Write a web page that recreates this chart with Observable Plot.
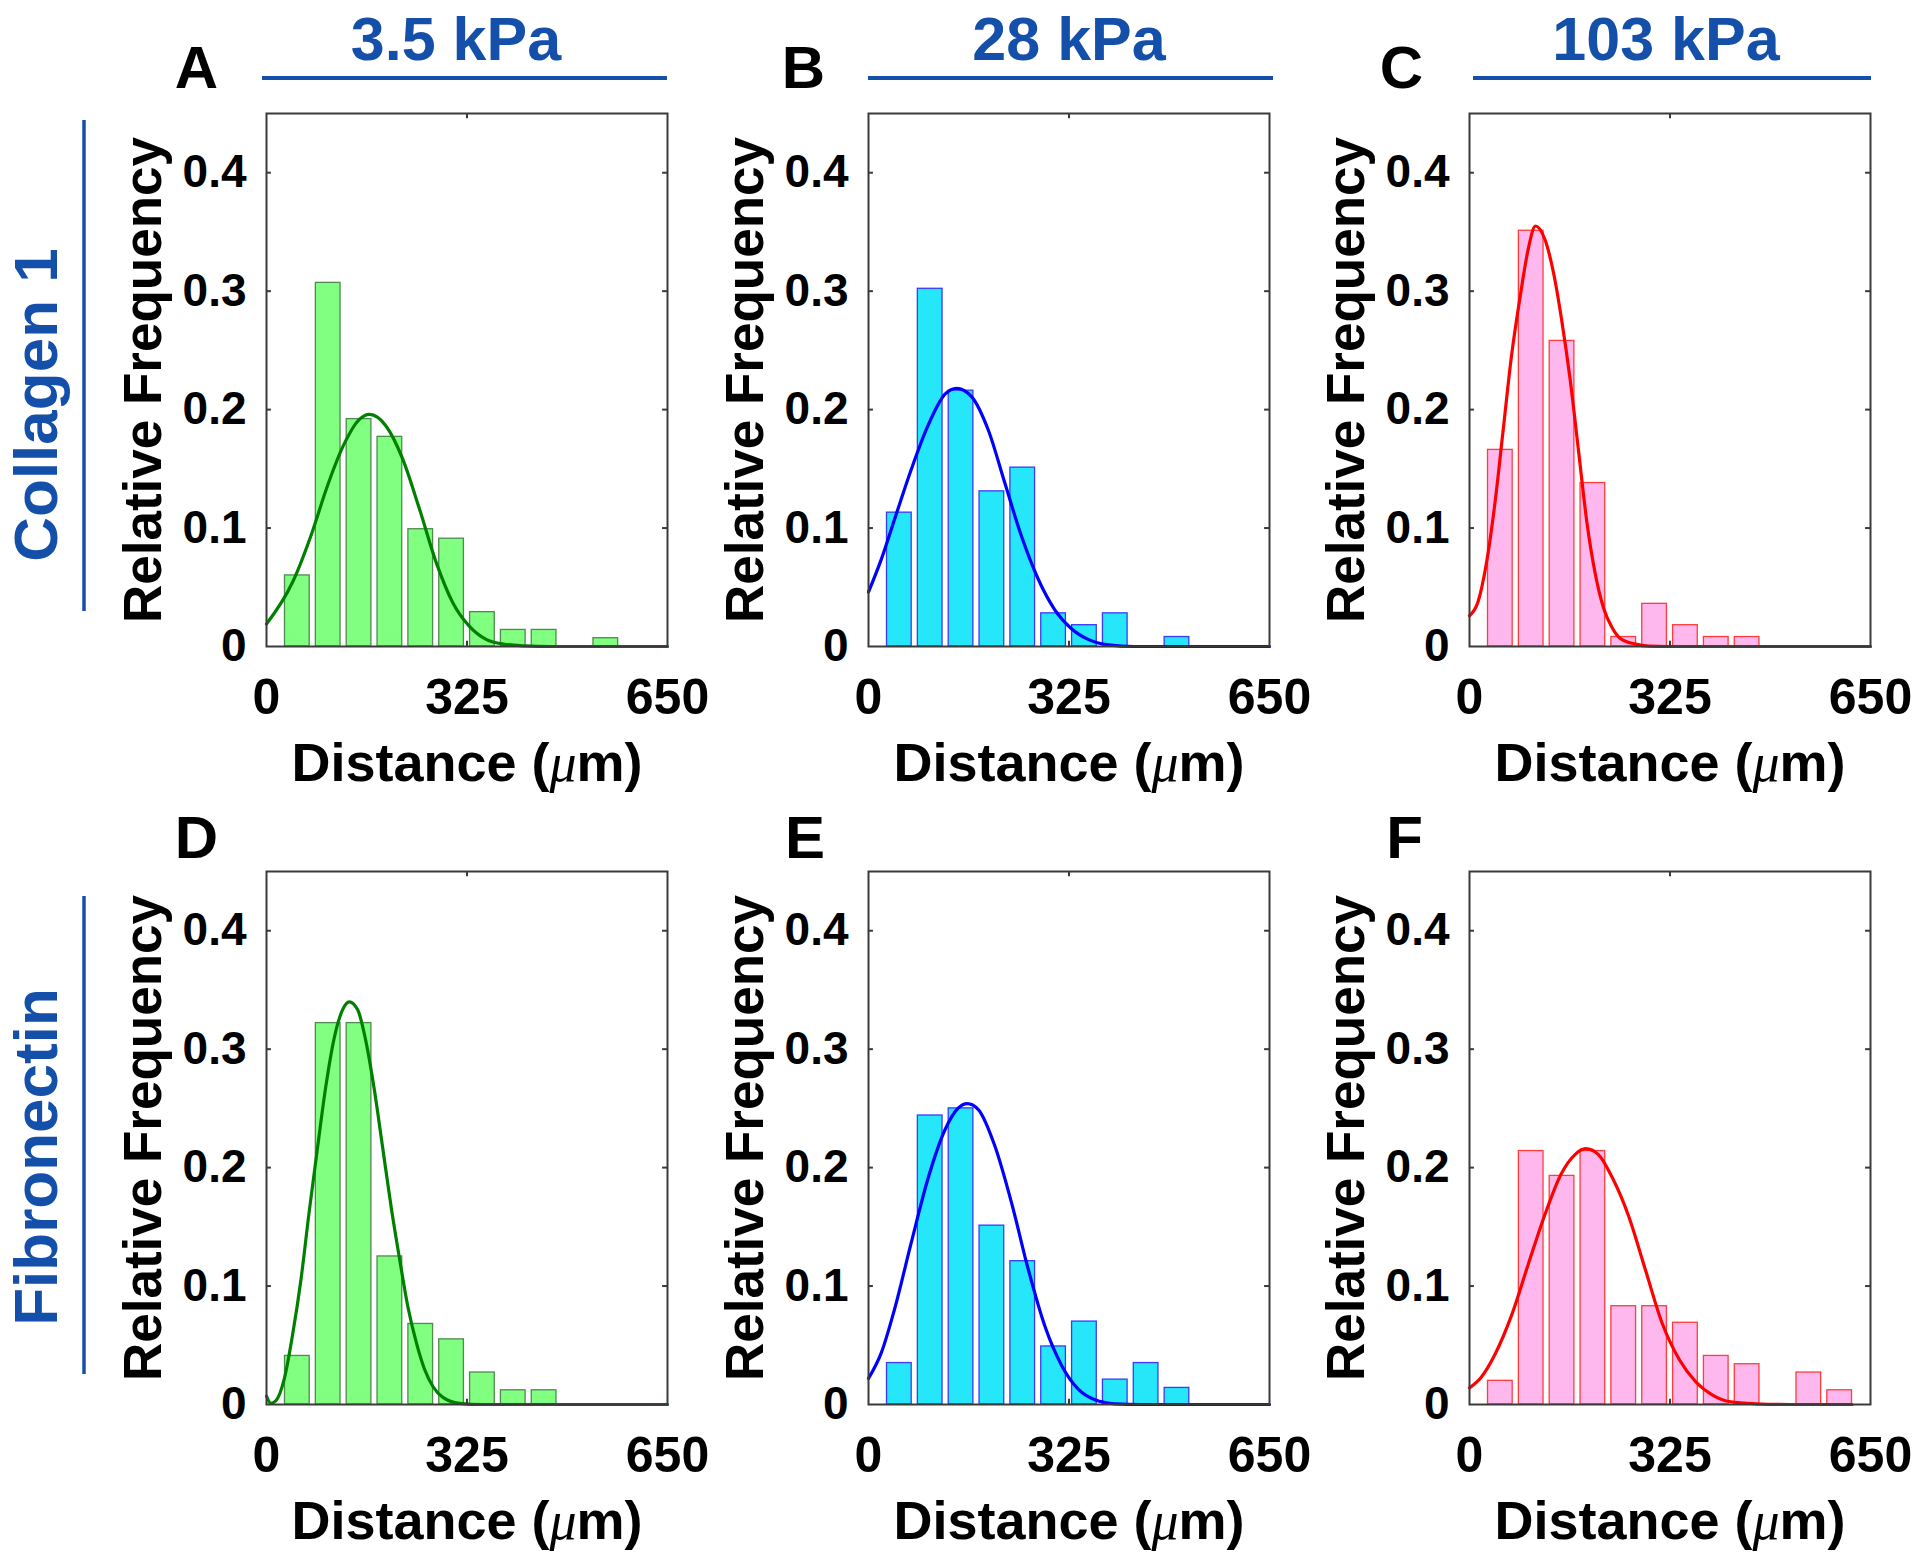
<!DOCTYPE html>
<html>
<head>
<meta charset="utf-8">
<script src="https://cdn.jsdelivr.net/npm/d3@7"></script>
<script src="https://cdn.jsdelivr.net/npm/@observablehq/plot@0.6"></script>
<style>
  html, body { margin: 0; padding: 0; background: #fff; overflow: hidden; }
  #fig { position: relative; width: 1920px; height: 1564px; background: #fff; }
  .panel { position: absolute; }
  .panel svg { max-width: none !important; display: block; }
  #overlay { position: absolute; left: 0; top: 0; pointer-events: none; }
</style>
</head>
<body>
<div id="fig"></div>
<script>
// ---------------- data ----------------
const columnTitles = ["3.5 kPa", "28 kPa", "103 kPa"];
const rowTitles = ["Collagen 1", "Fibronectin"];
const panelLetters = ["A", "B", "C", "D", "E", "F"];
const xTicks = [0, 325, 650];
const yTicks = [0, 0.1, 0.2, 0.3, 0.4];
const binCenters = [50, 100, 150, 200, 250, 300, 350, 400, 450, 500, 550, 600];

// relative frequency per bin (bins centred on binCenters)
const freqA = [0.060, 0.307, 0.192, 0.177, 0.099, 0.091, 0.029, 0.014, 0.014, 0, 0.007];
const freqB = [0.113, 0.302, 0.216, 0.131, 0.151, 0.028, 0.018, 0.028, 0, 0.008];
const freqC = [0.166, 0.351, 0.258, 0.138, 0.008, 0.036, 0.018, 0.008, 0.008];
const freqD = [0.041, 0.322, 0.322, 0.125, 0.068, 0.055, 0.027, 0.012, 0.012];
const freqE = [0.035, 0.244, 0.250, 0.151, 0.121, 0.049, 0.070, 0.021, 0.035, 0.014];
const freqF = [0.020, 0.214, 0.193, 0.214, 0.083, 0.083, 0.069, 0.041, 0.034, 0, 0.027, 0.012];

// fitted curves, points
const fitXA = [0, 42, 75, 97, 124, 151, 167, 194, 221, 248, 275, 302, 329, 356, 384, 420, 460, 650];
const fitYA = [0.019, 0.054, 0.098, 0.133, 0.169, 0.192, 0.196, 0.186, 0.158, 0.116, 0.071, 0.037, 0.017, 0.006, 0.002, 0.0005, 0, 0];
const fitXB = [0, 21, 42, 69, 96, 124, 143, 167, 194, 221, 248, 275, 302, 329, 356, 389, 430, 650];
const fitYB = [0.046, 0.074, 0.107, 0.149, 0.186, 0.213, 0.218, 0.211, 0.183, 0.138, 0.093, 0.057, 0.031, 0.015, 0.006, 0.0014, 0, 0];
const fitXC = [0, 14, 27, 41, 54, 68, 82, 95, 107, 122, 136, 149, 163, 177, 190, 204, 217, 231, 244, 269, 291, 320, 650];
const fitYC = [0.026, 0.038, 0.069, 0.120, 0.180, 0.245, 0.295, 0.335, 0.355, 0.344, 0.316, 0.277, 0.226, 0.164, 0.106, 0.061, 0.033, 0.016, 0.007, 0.002, 0.0003, 0, 0];
const fitXD = [0, 7, 15, 29, 42, 56, 69, 83, 96, 110, 124, 134, 148, 161, 175, 188, 202, 216, 229, 243, 256, 270, 286, 313, 350, 650];
const fitYD = [0.007, 0.001, 0.003, 0.022, 0.058, 0.106, 0.162, 0.218, 0.268, 0.310, 0.334, 0.340, 0.333, 0.307, 0.265, 0.218, 0.167, 0.122, 0.083, 0.052, 0.030, 0.015, 0.006, 0.001, 0, 0];
const fitXE = [0, 21, 42, 69, 96, 124, 145, 160, 178, 205, 232, 259, 286, 313, 340, 367, 400, 440, 650];
const fitYE = [0.022, 0.044, 0.080, 0.136, 0.190, 0.232, 0.250, 0.254, 0.249, 0.218, 0.170, 0.114, 0.066, 0.033, 0.013, 0.004, 0.0006, 0, 0];
const fitXF = [0, 19, 41, 68, 95, 122, 149, 171, 188, 209, 231, 258, 285, 312, 340, 367, 394, 421, 464, 520, 620];
const fitYF = [0.014, 0.023, 0.042, 0.075, 0.118, 0.160, 0.195, 0.211, 0.216, 0.211, 0.192, 0.159, 0.114, 0.069, 0.038, 0.019, 0.008, 0.0025, 0.0006, 0, 0];

// ---------------- styles ----------------
const themes = {
  green: { fill: "#80ff80", edge: "#4f8a4f", line: "#008000" },
  cyan:  { fill: "#26e6fa", edge: "#3a3aff", line: "#0000ff" },
  pink:  { fill: "#ffb8ee", edge: "#ff3c3c", line: "#ff0000" }
};
const BLUE = "#1450aa";
const FONT = "'Liberation Sans', Arial, Helvetica, sans-serif";

const panels = [
  { freq: freqA, fx: fitXA, fy: fitYA, theme: "green" },
  { freq: freqB, fx: fitXB, fy: fitYB, theme: "cyan" },
  { freq: freqC, fx: fitXC, fy: fitYC, theme: "pink" },
  { freq: freqD, fx: fitXD, fy: fitYD, theme: "green" },
  { freq: freqE, fx: fitXE, fy: fitYE, theme: "cyan" },
  { freq: freqF, fx: fitXF, fy: fitYF, theme: "pink" }
];

// ---------------- layout ----------------
const W = 601, H = 713, ML = 170, MR = 30, MT = 20, MB = 160;
const frameLefts = [266, 868, 1469];
const frameTops = [113, 871];
const fig = document.getElementById("fig");

panels.forEach((p, i) => {
  const r = Math.floor(i / 3), c = i % 3;
  const th = themes[p.theme];
  const bars = p.freq.map((f, k) => ({ x: binCenters[k], f })).filter(d => d.f > 0);
  const fit = p.fx.map((x, k) => ({ x, y: p.fy[k] }));
  const axisColor = "#3a3a3a";

  const svg = Plot.plot({
    width: W, height: H,
    marginLeft: ML, marginRight: MR, marginTop: MT, marginBottom: MB,
    x: { domain: [0, 650], axis: null },
    y: { domain: [0, 0.45], axis: null },
    style: { fontFamily: FONT, fontWeight: "bold", color: "#000", background: "transparent", overflow: "visible" },
    marks: [
      Plot.rectY(bars, { x1: d => d.x - 20, x2: d => d.x + 20, y: "f", fill: th.fill, stroke: th.edge, strokeWidth: 1.3 }),
      Plot.line(fit, { x: "x", y: "y", stroke: th.line, strokeWidth: 3.2, curve: "monotone-x" }),
      Plot.frame({ stroke: axisColor, strokeWidth: 2 }),
      Plot.ruleX([325], { y1: 0, y2: 0.0045, stroke: axisColor, strokeWidth: 2 }),
      Plot.ruleX([325], { y1: 0.4455, y2: 0.45, stroke: axisColor, strokeWidth: 2 }),
      Plot.ruleY(yTicks.filter(v => v > 0), { x1: 0, x2: 8, stroke: axisColor, strokeWidth: 2 }),
      Plot.ruleY(yTicks.filter(v => v > 0), { x1: 642, x2: 650, stroke: axisColor, strokeWidth: 2 }),
      Plot.axisX({ ticks: xTicks, tickSize: 0, tickPadding: 32, fontSize: 50, tickFormat: d => String(d), label: null }),
      Plot.axisY({ ticks: yTicks, tickSize: 0, tickPadding: 20, fontSize: 46, tickFormat: d => d === 0 ? "0" : d.toFixed(1), label: null }),
      Plot.text(["Relative Frequency"], { frameAnchor: "left", rotate: -90, dx: -106, lineAnchor: "bottom", textAnchor: "middle", fontSize: 53, fontWeight: "bold", fill: "#000" }),
      Plot.text(["Distance (μm)"], { frameAnchor: "bottom", dy: 134, lineAnchor: "bottom", textAnchor: "middle", fontSize: 54, fontWeight: "bold", fill: "#000" })
    ]
  });

  // italic mu, as in the reference
  d3.select(svg).selectAll("text").each(function () {
    if (this.textContent === "Distance (μm)") {
      const t = d3.select(this);
      t.text("");
      t.append("tspan").text("Distance (");
      t.append("tspan").attr("font-style", "italic").attr("font-weight", "normal")
        .attr("font-family", "'Liberation Serif', 'DejaVu Serif', serif").text("μ");
      t.append("tspan").text("m)");
    }
  });

  const div = document.createElement("div");
  div.className = "panel";
  div.style.left = (frameLefts[c] - ML) + "px";
  div.style.top = (frameTops[r] - MT) + "px";
  div.appendChild(svg);
  fig.appendChild(div);
});

// ---------------- titles / annotations ----------------
const ov = d3.select("#fig").append("svg").attr("id", "overlay")
  .attr("width", 1920).attr("height", 1564)
  .style("font-family", FONT).style("font-weight", "bold");

const titleX = [456, 1069, 1666];
const underline = [[262, 667], [868, 1273], [1473, 1871]];
columnTitles.forEach((t, c) => {
  ov.append("text").attr("x", titleX[c]).attr("y", 60).attr("text-anchor", "middle")
    .attr("font-size", 61).attr("fill", BLUE).text(t);
  ov.append("line").attr("x1", underline[c][0]).attr("x2", underline[c][1])
    .attr("y1", 78).attr("y2", 78).attr("stroke", BLUE).attr("stroke-width", 4);
});

const letterRight = [218, 825, 1423];
const letterBase = [88, 858];
panelLetters.forEach((l, i) => {
  const r = Math.floor(i / 3), c = i % 3;
  ov.append("text").attr("x", letterRight[c]).attr("y", letterBase[r]).attr("text-anchor", "end")
    .attr("font-size", 60).attr("fill", "#000").text(l);
});

const rowCenter = [405, 1157];
const rowLine = [[120, 611], [896, 1374]];
rowTitles.forEach((t, r) => {
  ov.append("text").attr("transform", `translate(57,${rowCenter[r]}) rotate(-90)`)
    .attr("text-anchor", "middle").attr("font-size", 62).attr("fill", BLUE).text(t);
  ov.append("line").attr("x1", 84).attr("x2", 84).attr("y1", rowLine[r][0]).attr("y2", rowLine[r][1])
    .attr("stroke", BLUE).attr("stroke-width", 3.5);
});
</script>
</body>
</html>
